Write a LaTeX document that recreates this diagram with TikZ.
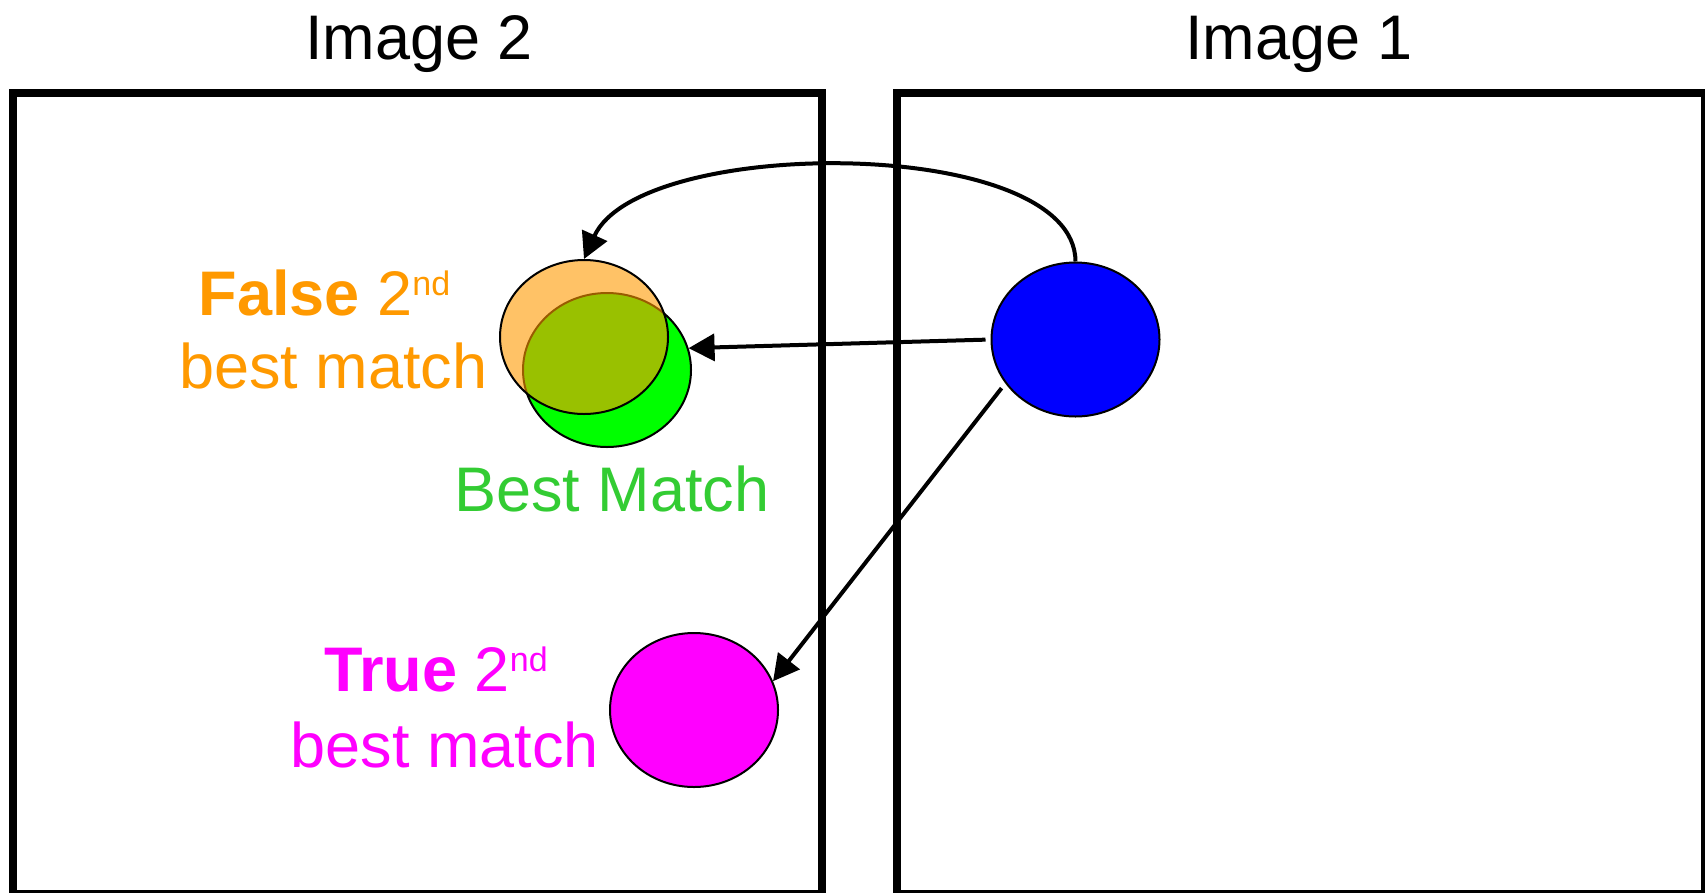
\documentclass[tikz,border=0pt]{standalone}
\usepackage{fontspec}
\setmainfont{Liberation Sans}
\usetikzlibrary{shapes.geometric,arrows.meta}
\definecolor{txtorange}{HTML}{FF9900}
\definecolor{txtgreen}{HTML}{33CC33}
\definecolor{fillgreen}{HTML}{00FF00}
\definecolor{fillblue}{HTML}{0000FF}
\definecolor{fillmag}{HTML}{FF00FF}
\newcommand\supnd{\raisebox{20pt}{\fontsize{34}{34}\selectfont nd}}
\begin{document}
\begin{tikzpicture}[x=1pt,y=-1pt,
  frame/.style={draw=black,line width=8pt},
  blob/.style={ellipse,draw=black,line width=2pt,minimum width=168pt,minimum height=154pt,inner sep=0pt},
  lbl/.style={anchor=base,inner sep=0pt,font=\fontsize{63}{73}\selectfont},
  conn/.style={line width=4pt,-{Triangle[length=26pt,width=27pt]}},
]
\useasboundingbox (0,0) rectangle (1705,892);
\clip (0,0) rectangle (1705,892);
\draw[frame] (13,93) rectangle (822,894);
\draw[frame] (897,93) rectangle (1705,894);
\node[lbl] (img2) at (419,59) {Image 2};
\node[lbl] (img1) at (1299,59) {Image 1};
\node[blob,fill=fillgreen] (best) at (607,370) {};
\node[blob,fill=txtorange,fill opacity=0.6] (nfalse) at (584,337) {};
\node[blob,fill=fillblue] (query) at (1075.5,339.5) {};
\node[blob,fill=fillmag] (ntrue) at (694,710) {};
\draw[conn] (query.north) .. controls (1075,135) and (640,135) .. (nfalse.north);
\draw[conn,shorten <=5pt] (query.west) -- (best.15);
\draw[conn,shorten <=6pt] (query.212) -- (ntrue.20);
\node[lbl,text=txtorange] (falseA) at (324.5,315) {\textbf{False} 2\supnd};
\node[lbl,text=txtorange] (falseB) at (333.5,388) {best match};
\node[lbl,text=txtgreen] (bestlbl) at (612,511) {Best Match};
\node[lbl,text=fillmag] (trueA) at (436,691) {\textbf{True} 2\supnd};
\node[lbl,text=fillmag] (trueB) at (445,767) {best match};
\end{tikzpicture}
\end{document}
